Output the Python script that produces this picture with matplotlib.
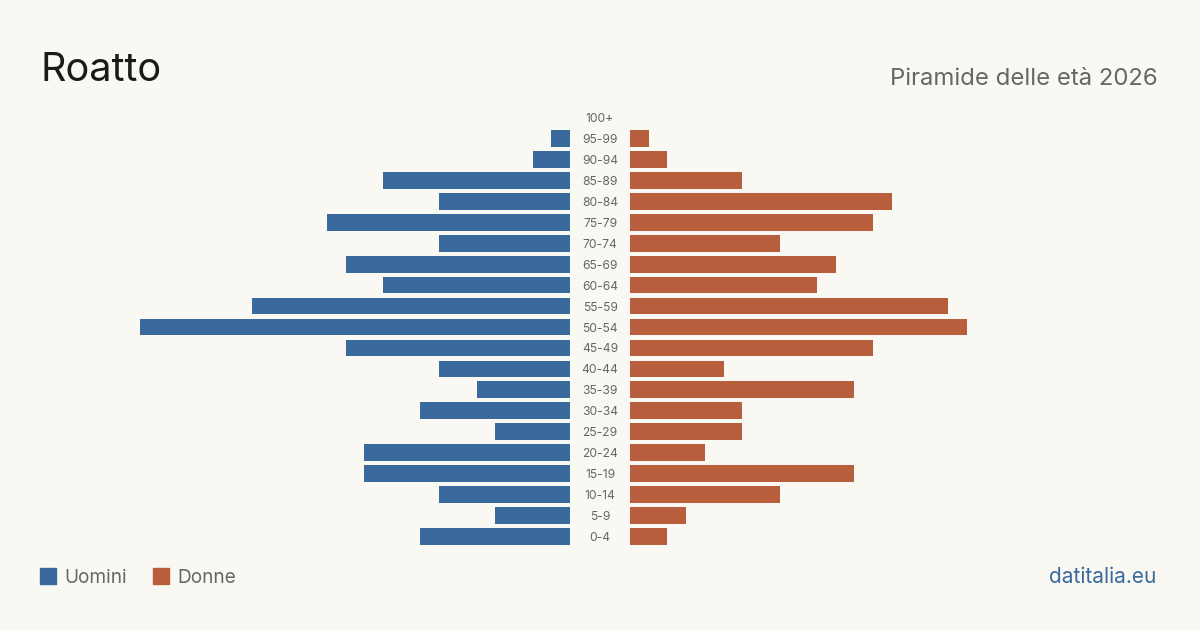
import matplotlib.pyplot as plt
from matplotlib.patches import Rectangle

# dati
eta = ["0-4", "5-9", "10-14", "15-19", "20-24", "25-29", "30-34", "35-39", "40-44",
       "45-49", "50-54", "55-59", "60-64", "65-69", "70-74", "75-79", "80-84",
       "85-89", "90-94", "95-99", "100+"]
uomini = [8, 4, 7, 11, 11, 4, 8, 5, 7, 12, 23, 17, 10, 12, 7, 13, 7, 10, 2, 1, 0]
donne = [2, 3, 8, 12, 4, 6, 6, 12, 5, 13, 18, 17, 10, 11, 8, 13, 14, 6, 2, 1, 0]

BG = "#f9f8f3"
BLU = "#3a6a9b"
ARANCIO = "#b95e3c"
GRIGIO = "#666666"

W, H = 1200, 630
PX_UNIT = 18.7     # pixel per persona
ROW = 20.95        # pixel per fascia
Y0 = 536.5         # pixel della fascia 0-4
GAP = 30 / PX_UNIT

plt.rcParams["font.family"] = ["Inter", "DejaVu Sans"]

fig = plt.figure(figsize=(12, 6.3), dpi=100, facecolor=BG)
ax = fig.add_axes([0, 0, 1, 1])
ax.set_facecolor(BG)
ax.set_xlim(-600 / PX_UNIT, 600 / PX_UNIT)
ax.set_ylim((Y0 - H) / ROW, Y0 / ROW)
ax.axis("off")

y = list(range(len(eta)))
ax.barh(y, [-v for v in uomini], left=-GAP, height=0.8, color=BLU)
ax.barh(y, donne, left=GAP, height=0.8, color=ARANCIO)
for yi, lab in zip(y, eta):
    ax.text(0, yi, lab, ha="center", va="center_baseline", fontsize=8.7, color=GRIGIO)

def fx(px):
    return px / W

def fy(py):
    return 1 - py / H

fig.text(fx(40), fy(81), "Roatto", fontsize=28.5, color="#1a1a1a", va="baseline")
fig.text(fx(1158), fy(85), "Piramide delle età 2026", fontsize=17.2,
         color=GRIGIO, ha="right", va="baseline")

# legenda
for x0, col, lab in [(40, BLU, "Uomini"), (153, ARANCIO, "Donne")]:
    fig.patches.append(Rectangle((fx(x0), fy(584)), 16 / W, 16 / H,
                                 transform=fig.transFigure, color=col))
    fig.text(fx(x0 + 24), fy(583), lab, fontsize=13.7, color=GRIGIO, va="baseline")

fig.text(fx(1156), fy(583), "datitalia.eu", fontsize=15, color=BLU,
         ha="right", va="baseline")

fig.savefig("out.png", dpi=100, facecolor=BG)
